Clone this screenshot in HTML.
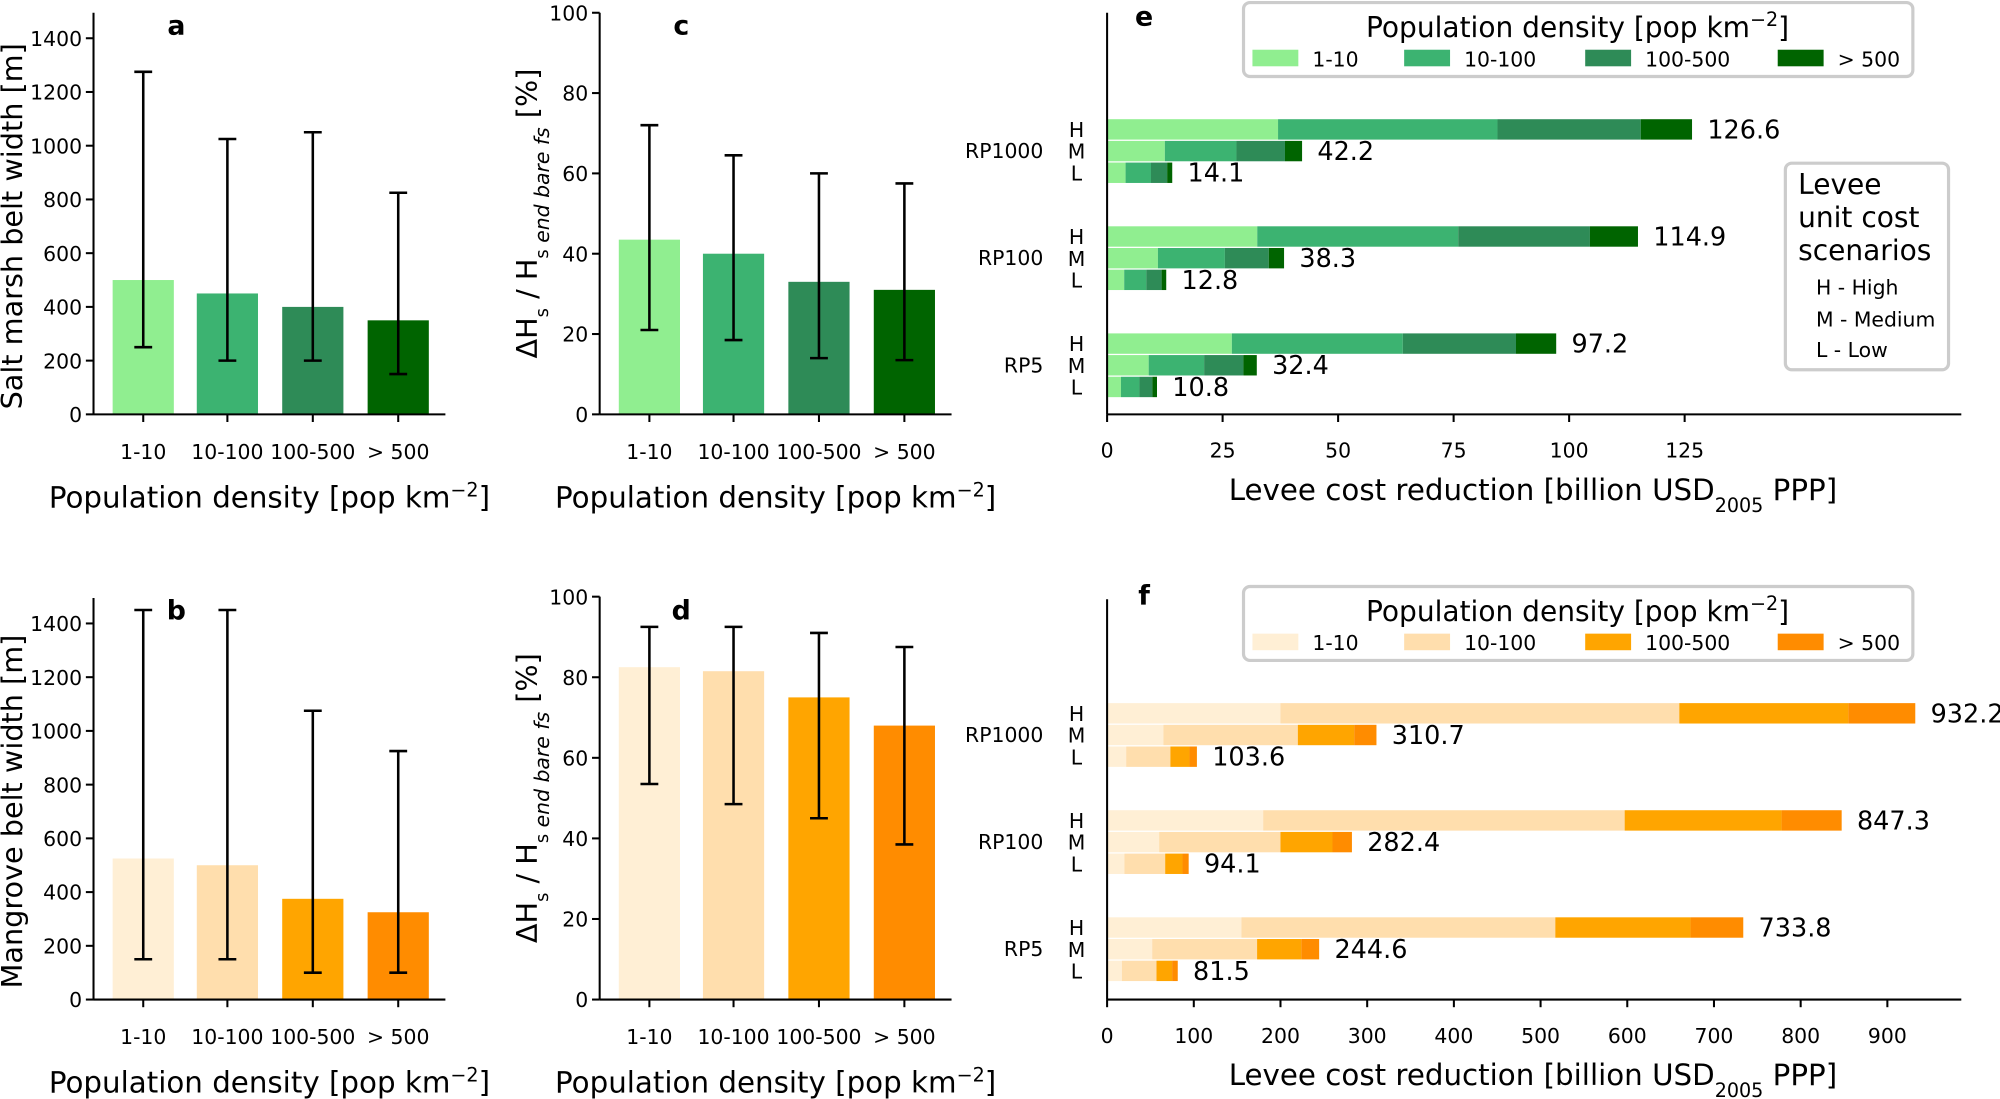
<!DOCTYPE html>
<html><head><meta charset="utf-8"><style>
html,body{margin:0;padding:0;background:#fff}
svg{display:block}
text{font-family:"DejaVu Sans","Liberation Sans",sans-serif;fill:#000}
</style></head><body>
<svg id="s" width="2000" height="1099" viewBox="0 0 1568 862" xmlns="http://www.w3.org/2000/svg"></svg>
<script>
const s=document.getElementById('s');let h='';
function R(x,y,w,hh,f,st){h+=`<rect x="${x}" y="${y}" width="${w}" height="${hh}" fill="${f}" ${st||''}/>`;}
function L(x1,y1,x2,y2,w){h+=`<line x1="${x1}" y1="${y1}" x2="${x2}" y2="${y2}" stroke="#000" stroke-width="${w||1.6}"/>`;}
function T(x,y,t,sz,anc,ex){h+=`<text x="${x}" y="${y}" font-size="${sz}" text-anchor="${anc||'start'}" ${ex||''}>${t}</text>`;}
const G=['#90ee90','#3cb371','#2e8b57','#006400'],O=['#ffefd5','#ffdead','#ffa500','#ff8c00'];
const cats=['1-10','10-100','100-500','&gt; 500'];
const popLab='Population density [pop km<tspan baseline-shift="super" font-size="15">−2</tspan>]';
function barPanel(ax,y0,ytop,maxv,step,cols,vals,errs,ylab,letter,lx){
  const sc=(y0-ytop)/maxv; const cx=[ax+39,ax+105,ax+172,ax+239];
  for(let i=0;i<4;i++){R(cx[i]-24,y0-vals[i]*sc,48,vals[i]*sc,cols[i]);}
  for(let i=0;i<4;i++){const a=y0-errs[i][0]*sc,b=y0-errs[i][1]*sc;L(cx[i],a,cx[i],b,2);L(cx[i]-7,a,cx[i]+7,a,2);L(cx[i]-7,b,cx[i]+7,b,2);}
  L(ax,y0,ax+276,y0);L(ax,y0,ax,ytop-(maxv==100?0:20));
  for(let v=0;v<=maxv;v+=step){const y=y0-v*sc;L(ax-6,y,ax,y);T(ax-9,y+6,v,16,'end');}
  for(let i=0;i<4;i++){L(cx[i],y0,cx[i],y0+6);T(cx[i],y0+35,cats[i],16,'middle');}
  T(ax+138,y0+73,popLab,23,'middle');
  T(lx,y0==325?27:486,letter,21,'middle','font-weight="bold"');
  h+=`<text transform="translate(${ax==73?17:421},${(y0+ytop)/2}) rotate(-90)" font-size="22.5" text-anchor="middle">${ylab}</text>`;
}
const dh='ΔH<tspan baseline-shift="sub" font-size="14">s</tspan> / H<tspan baseline-shift="sub" font-size="14">s</tspan><tspan font-style="italic" font-size="16" baseline-shift="sub"> end bare fs</tspan> [%]';
barPanel(73,325,30,1400,200,G,[500,450,400,350],[[250,1275],[200,1025],[200,1050],[150,825]],'Salt marsh belt width [m]','a',138);
barPanel(470,325,10,100,20,G,[43.5,40,33,31],[[21,72],[18.5,64.5],[14,60],[13.5,57.5]],dh,'c',534);
barPanel(73,784,489,1400,200,O,[525,500,375,325],[[150,1450],[150,1450],[100,1075],[100,925]],'Mangrove belt width [m]','b',138);
barPanel(470,784,468,100,20,O,[82.5,81.5,75,68],[[53.5,92.5],[48.5,92.5],[45,91],[38.5,87.5]],dh,'d',534);

function hPanel(y0,ytop,sc,ticks,cols,groups,rows,legY,letter){
  const x0=868;
  groups.forEach((g,gi)=>{g.forEach((seg,ri)=>{const y=rows[gi]+ri*17-8.5;let p=0;
    seg.slice(0,4).forEach((v,k)=>{R(x0+p*sc,y,(v-p)*sc,16,cols[k]);p=v;});
    T(x0+p*sc+12,y+15,seg[4],20);
    T(x0-24,y+14,['H','M','L'][ri],16,'middle');});
    T(x0-50,rows[gi]+22,['RP1000','RP100','RP5'][gi],16,'end');});
  L(x0,y0,1538,y0);L(x0,y0,x0,ytop);
  ticks.forEach(v=>{const x=x0+v*sc;L(x,y0,x,y0+6);T(x,y0+34,v,16,'middle');});
  T(1202,y0+67,'Levee cost reduction [billion USD<tspan baseline-shift="sub" font-size="15">2005</tspan> PPP]',23,'middle');
  T(897,y0==325?20:474,letter,21,'middle','font-weight="bold"');
  R(975,legY,525,58,'#fff','stroke="#ccc" stroke-width="2.5" rx="5"');
  T(1237,legY+27,popLab,22,'middle');
  const lx=[982,1101,1243,1394];
  cats.forEach((c,k)=>{R(lx[k],legY+37,36,13,cols[k]);T(lx[k]+47,legY+50,c,16);});
}
hPanel(325,10,3.624,[0,25,50,75,100,125],G,[
 [[37,84.5,115.5,126.6,'126.6'],[12.5,28,38.5,42.2,'42.2'],[4,9.5,13,14.1,'14.1']],
 [[32.5,76,104.5,114.9,'114.9'],[11,25.5,35,38.3,'38.3'],[3.7,8.5,11.8,12.8,'12.8']],
 [[27,64,88.5,97.2,'97.2'],[9,21,29.5,32.4,'32.4'],[3,7,9.8,10.8,'10.8']]],[102,186,270],2,'e');
hPanel(784,470,0.68,[0,100,200,300,400,500,600,700,800,900],O,[
 [[200,660,855,932.2,'932.2'],[65,220,285,310.7,'310.7'],[22,73,95,103.6,'103.6']],
 [[180,597,778,847.3,'847.3'],[60,200,260,282.4,'282.4'],[20,67,87,94.1,'94.1']],
 [[155,517,673,733.8,'733.8'],[52,173,224,244.6,'244.6'],[17,57,75,81.5,'81.5']]],[560,644,728],460,'f');
R(1400,128,128,162,'#fff','stroke="#ccc" stroke-width="2.5" rx="5"');
T(1410,152,'Levee',22);T(1410,178,'unit cost',22);T(1410,204,'scenarios',22);
T(1424,231,'H - High',16);T(1424,256,'M - Medium',16);T(1424,280,'L - Low',16);
s.innerHTML=h;
</script>
</body></html>
